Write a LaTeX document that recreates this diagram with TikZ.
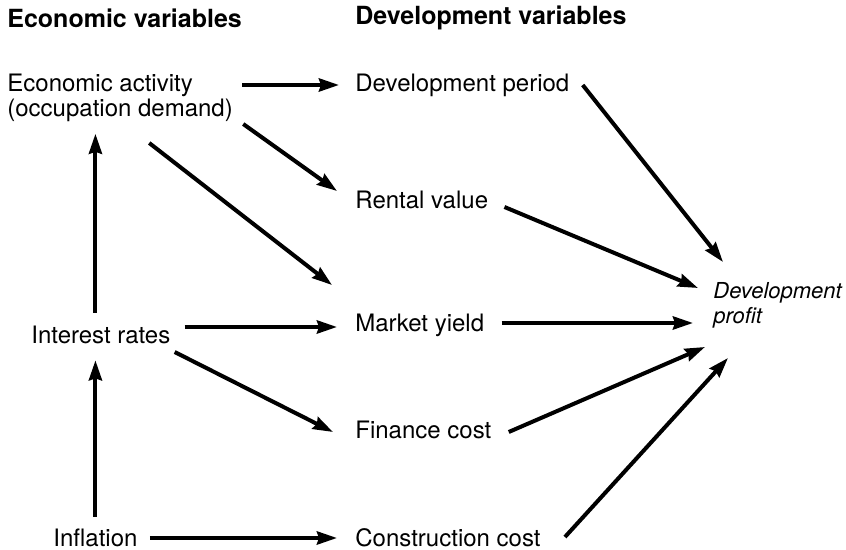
\documentclass[tikz,border=0pt]{standalone}
\usepackage{fontspec}
\setmainfont{TeX Gyre Heros}
\usetikzlibrary{arrows.meta}
\tikzset{
  var/.style={anchor=west,inner sep=0pt,font=\fontsize{12}{12.5}\selectfont},
  head/.style={anchor=west,inner sep=0pt,font=\fontsize{12.5}{12.5}\selectfont\bfseries},
  arr/.style={line width=2pt,-{Stealth[length=10pt,width=6.5pt,inset=1pt]}}
}
\begin{document}
\begin{tikzpicture}[x=0.5pt,y=-0.5pt]
    \useasboundingbox (0,0) rectangle (846,550);
    \node[head] (hE) at (7,18) {Economic variables};
    \node[head] (hD) at (355,18) {Development variables};
    \node[var,align=left] (ea) at (7,97.5) {Economic activity\\(occupation demand)};
    \node[var] (ir) at (31,335) {Interest rates};
    \node[var] (inf) at (53,538) {Inflation};
    \node[var] (dp) at (355,85) {Development period};
    \node[var] (rv) at (355,200) {Rental value};
    \node[var] (my) at (355,325) {Market yield};
    \node[var] (fc) at (355,430) {Finance cost};
    \node[var] (cc) at (355,538) {Construction cost};
    \node[var,align=left,font=\fontsize{11}{12.5}\selectfont\itshape] (pr) at (713,305) {Development\\profit};
    \draw[arr] ([shift={(9,-12.5)}]ea.east) -- ([shift={(-16,0)}]dp.west);
    \draw[arr] ([shift={(10,26.5)}]ea.east) -- ([shift={(-18,-9)}]rv.west);
    \draw[arr] ([shift={(-84,45.5)}]ea.east) -- ([shift={(-23,-40)}]my.west);
    \draw[arr] ([shift={(0,-13)}]ir.north -| inf.north) -- ([shift={(0,12)}]ea.south -| inf.north);
    \draw[arr] ([shift={(0,-12)}]inf.north) -- ([shift={(0,16)}]ir.south -| inf.north);
    \draw[arr] ([shift={(14,-8)}]ir.east) -- ([shift={(-18,2)}]my.west);
    \draw[arr] ([shift={(4,17)}]ir.east) -- ([shift={(-22,2)}]fc.west);
    \draw[arr] ([shift={(12,0)}]inf.east) -- ([shift={(-18,0)}]cc.west);
    \draw[arr] ([shift={(13,0)}]dp.east) -- ([shift={(10,-43)}]pr.west);
    \draw[arr] ([shift={(16,7)}]rv.east) -- ([shift={(-15,-17)}]pr.west);
    \draw[arr] ([shift={(17,-2)}]my.east) -- ([shift={(-20,18)}]pr.west);
    \draw[arr] ([shift={(17,2)}]fc.east) -- ([shift={(-8,42)}]pr.west);
    \draw[arr] ([shift={(24,-1)}]cc.east) -- ([shift={(15,53)}]pr.west);
\end{tikzpicture}
\end{document}
